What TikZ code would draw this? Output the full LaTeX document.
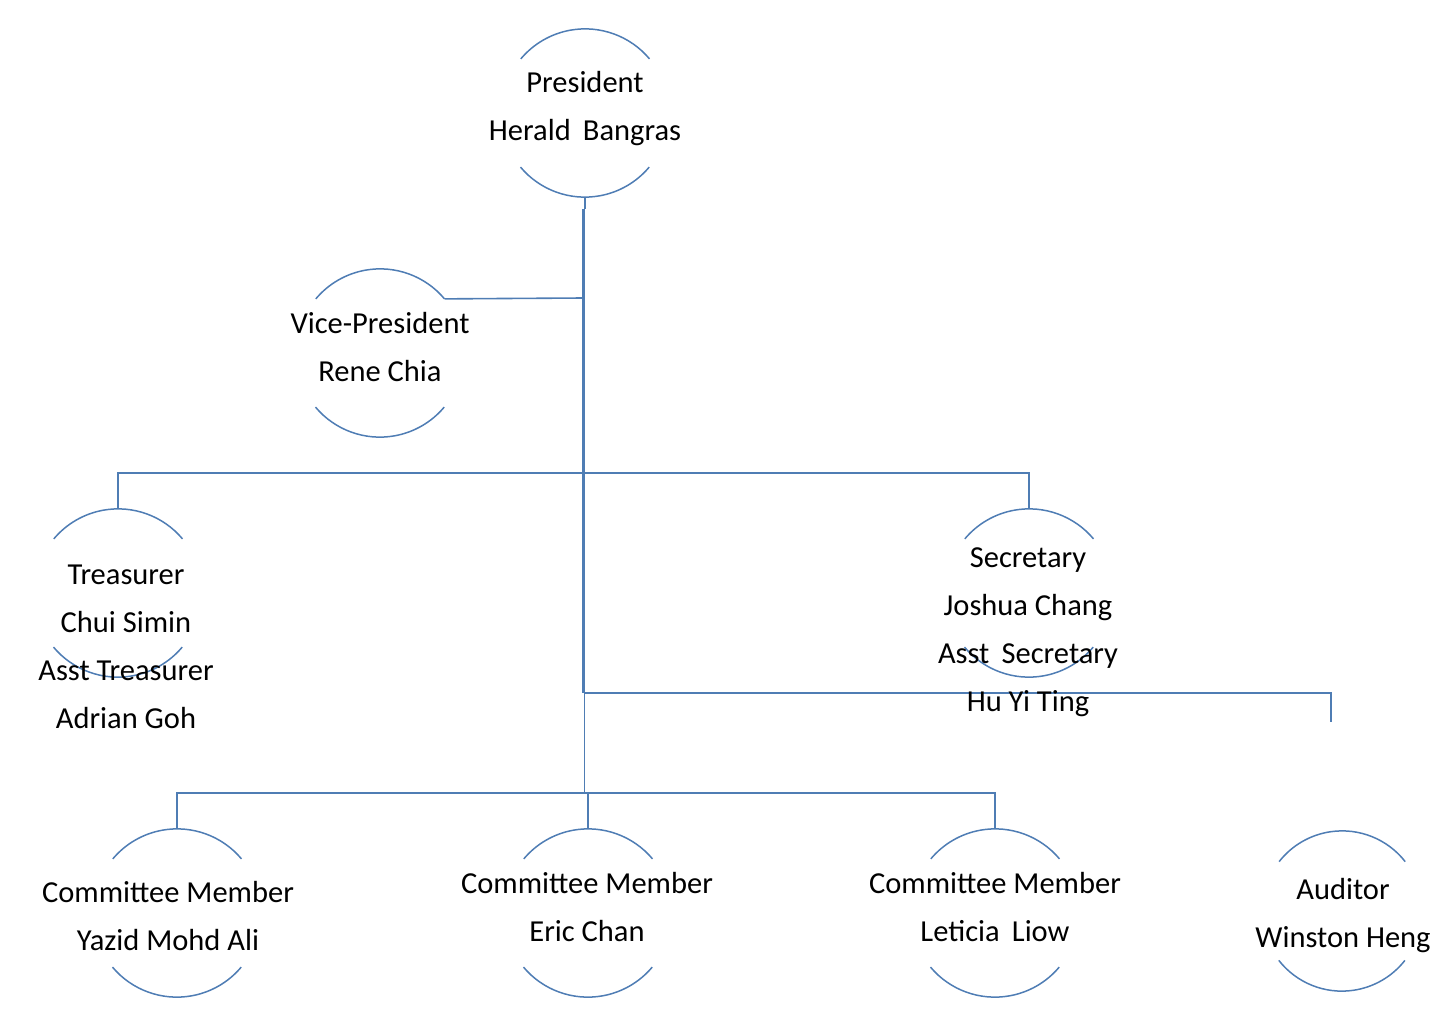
\documentclass[tikz,border=0pt]{standalone}
\usepackage{fontspec}
\setmainfont{Carlito}
\definecolor{lc}{RGB}{79,125,180}
\begin{document}
\begin{tikzpicture}[x=1pt,y=-1pt,
  role/.style={circle,minimum size=168pt,inner sep=0pt,draw=none},
  smallrole/.style={role,minimum size=160pt},
  conn/.style={draw=lc,line width=1.6pt},
  trunk/.style={draw=lc,line width=3.2pt},
  arcs/.style={draw=lc,line width=1.5pt},
  lbl/.style={align=center,font=\fontsize{30.5}{48}\selectfont,inner sep=0pt}]
\useasboundingbox (0,0) rectangle (1456,1030);
% circles (centres)
\node[role] (pres) at (585,113) {};
\node[role] (vp) at (380,353) {};
\node[role] (tr) at (118,593) {};
\node[role] (sec) at (1029,593) {};
\node[role] (cm1) at (177,913) {};
\node[role] (cm2) at (588,913) {};
\node[role] (cm3) at (995,913) {};
\node[smallrole] (aud) at (1342,911) {};
% arcs
\foreach \n in {pres,vp,tr,sec,cm1,cm2,cm3}{
  \draw[arcs] (\n.40) arc[start angle=40,end angle=140,radius=84pt];
  \draw[arcs] (\n.220) arc[start angle=220,end angle=320,radius=84pt];
}
\draw[arcs] (aud.38) arc[start angle=38,end angle=142,radius=80pt];
\draw[arcs] (aud.218) arc[start angle=218,end angle=322,radius=80pt];
% junctions
\coordinate (t0) at (583.5,209);
\coordinate (vpj) at (583.5,298);
\coordinate (tsj) at (583.5,473);
\coordinate (auj) at (583.5,693);
\coordinate (cmj) at (584.5,793);
\coordinate (auend) at (1331,722);
% connectors
\draw[conn] (pres.south) -- (pres.south |- t0);
\draw[trunk] (t0) -- (auj);
\draw[conn] (auj -| cmj) -- (cmj);
\draw[conn] (vp.40) -- (vpj);
\draw[conn] (tr.north) -- (tr.north |- tsj) -- (sec.north |- tsj) -- (sec.north);
\draw[conn] (auj) -- (auend |- auj) -- (auend);
\draw[conn] (cm1.north) -- (cm1.north |- cmj) -- (cm3.north |- cmj) -- (cm3.north);
\draw[conn] (cm2.north) -- (cm2.north |- cmj);
% labels
\node[lbl] (pres-t) at (585,109) {President\\Herald\hspace{0.4em}Bangras};
\node[lbl] (vp-t) at (380,347) {Vice-President\\Rene Chia};
\node[lbl] (tr-t) at (126,647) {Treasurer\\Chui Simin\\Asst Treasurer\\Adrian Goh};
\node[lbl] (sec-t) at (1028,632) {Secretary\\Joshua Chang\\Asst\hspace{0.4em}Secretary\\Hu Yi Ting};
\node[lbl] (cm1-t) at (168,916) {Committee Member\\Yazid Mohd Ali};
\node[lbl] (cm2-t) at (587,907) {Committee Member\\Eric Chan};
\node[lbl] (cm3-t) at (995,907) {Committee Member\\Leticia\hspace{0.4em}Liow};
\node[lbl] (aud-t) at (1343,916) {Auditor\\Winston Heng};
\end{tikzpicture}
\end{document}
